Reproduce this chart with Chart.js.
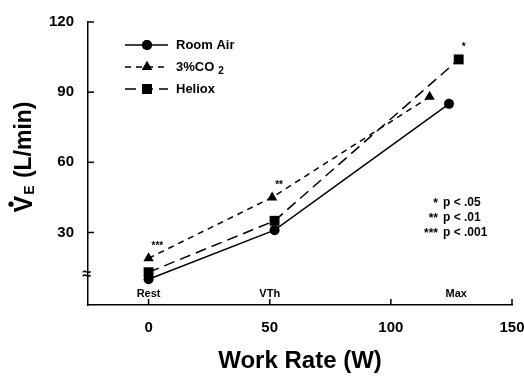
<!DOCTYPE html>
<html>
<head>
<meta charset="utf-8">
<script src="https://cdn.jsdelivr.net/npm/chart.js@4"></script>
<style>
  html, body { margin: 0; padding: 0; background: #fff; }
  #wrap { width: 524px; height: 379px; }
</style>
</head>
<body>
<div id="wrap"><canvas id="chart" width="524" height="379"></canvas></div>
<script>
// data
const roomAirX = [0, 52, 124];
const roomAirY = [10, 31, 85];
const co2X = [0, 51, 116];
const co2Y = [19, 45, 88];
const helioxX = [0, 52, 128];
const helioxY = [13, 35, 104];
const co2Sig = ['***', '**', ''];
const helioxSig = ['', '', '*'];
const xTicks = [0, 50, 100, 150];
const yTicks = [30, 60, 90, 120];
const stageLabels = ['Rest', 'VTh', 'Max'];
const stageX = [0, 50, 127];
const pStars = ['*', '**', '***'];
const pTexts = ['p < .05', 'p < .01', 'p < .001'];

const FONT = '"Liberation Sans", Arial, Helvetica, sans-serif';

function pts(xs, ys) {
    return xs.map((x, i) => ({ x: x, y: ys[i] }));
}

const datasets = [
    { label: 'Room Air', data: pts(roomAirX, roomAirY), pointStyle: 'circle', pointRadius: 5, borderDash: [] },
    { label: '3%CO2', data: pts(co2X, co2Y), pointStyle: 'triangle', pointRadius: 6, borderDash: [6, 5], sig: co2Sig },
    { label: 'Heliox', data: pts(helioxX, helioxY), pointStyle: 'rect', pointRadius: 7, borderDash: [11, 6], sig: helioxSig }
].map(d => Object.assign({
    showLine: true,
    borderColor: '#000',
    backgroundColor: '#000',
    borderWidth: 1.5,
    pointBorderWidth: 0,
    pointHoverRadius: 0
}, d));

// extras: inward ticks, labels, legend, y title
const extras = {
    id: 'extras',
    afterDatasetsDraw(chart) {
        const ctx = chart.ctx;
        const xs = chart.scales.x, ys = chart.scales.y;
        const area = chart.chartArea;
        ctx.save();
        ctx.strokeStyle = '#000';
        ctx.fillStyle = '#000';
        ctx.lineWidth = 1.5;

        // inward ticks
        xTicks.forEach(v => {
            const px = xs.getPixelForValue(v);
            ctx.beginPath(); ctx.moveTo(px, area.bottom); ctx.lineTo(px, area.bottom - 6); ctx.stroke();
        });
        yTicks.forEach(v => {
            const py = ys.getPixelForValue(v);
            ctx.beginPath(); ctx.moveTo(area.left, py); ctx.lineTo(area.left + 6, py); ctx.stroke();
        });

        // axis break
        ctx.font = 'bold 16px ' + FONT;
        ctx.textAlign = 'center';
        ctx.textBaseline = 'middle';
        ctx.fillText('\u2248', area.left - 1, ys.getPixelForValue(12));

        // stage labels
        ctx.font = 'bold 11px ' + FONT;
        ctx.textBaseline = 'bottom';
        stageLabels.forEach((t, i) => {
            ctx.fillText(t, xs.getPixelForValue(stageX[i]), area.bottom - 6);
        });

        // significance marks
        ctx.font = 'bold 10px ' + FONT;
        ctx.textAlign = 'left';
        ctx.textBaseline = 'middle';
        chart.data.datasets.forEach((ds, di) => {
            if (!ds.sig) return;
            const meta = chart.getDatasetMeta(di);
            ds.sig.forEach((s, i) => {
                if (!s) return;
                const p = meta.data[i];
                ctx.fillText(s, p.x + 3, p.y - 12);
            });
        });

        // p value key
        ctx.font = 'bold 12px ' + FONT;
        pStars.forEach((s, i) => {
            const y = 203 + i * 15;
            ctx.textAlign = 'right';
            ctx.fillText(s, 438, y + 1);
            ctx.textAlign = 'left';
            ctx.fillText(pTexts[i], 443, y);
        });

        // legend
        chart.data.datasets.forEach((ds, i) => {
            const y = 45 + i * 22;
            ctx.setLineDash(ds.borderDash);
            ctx.lineWidth = 1.5;
            ctx.beginPath(); ctx.moveTo(125, y); ctx.lineTo(168, y); ctx.stroke();
            ctx.setLineDash([]);
            Chart.helpers.drawPoint(ctx, { pointStyle: ds.pointStyle, radius: ds.pointRadius, borderWidth: 0 }, 147, y);
            ctx.fill();
            ctx.font = 'bold 13px ' + FONT;
            ctx.textAlign = 'left';
            ctx.textBaseline = 'middle';
            if (ds.label === '3%CO2') {
                ctx.fillText('3%CO', 176, y);
                const w = ctx.measureText('3%CO').width;
                ctx.font = 'bold 10px ' + FONT;
                ctx.fillText('2', 176 + w + 4, y + 4);
            } else {
                ctx.fillText(ds.label, 176, y);
            }
        });

        // y axis title: V-dot, subscript E, (L/min)
        ctx.translate(25, 157);
        ctx.rotate(-Math.PI / 2);
        ctx.textAlign = 'left';
        ctx.textBaseline = 'middle';
        ctx.font = 'bold 25px ' + FONT;
        const wV = ctx.measureText('V').width;
        ctx.font = 'bold 14px ' + FONT;
        const wE = ctx.measureText('E').width;
        ctx.font = 'bold 23px ' + FONT;
        const wU = ctx.measureText(' (L/min)').width;
        let x0 = -(wV + wE + 2 + wU) / 2;
        ctx.font = 'bold 25px ' + FONT;
        ctx.fillText('V', x0, 0);
        ctx.beginPath();
        ctx.arc(x0 + wV / 2, -14, 2.6, 0, Math.PI * 2);
        ctx.fill();
        ctx.font = 'bold 14px ' + FONT;
        ctx.fillText('E', x0 + wV + 1, 5);
        ctx.font = 'bold 23px ' + FONT;
        ctx.fillText(' (L/min)', x0 + wV + wE + 2, 0);
        ctx.restore();
    }
};

new Chart(document.getElementById('chart'), {
    type: 'scatter',
    data: { datasets: datasets },
    options: {
        responsive: false,
        animation: false,
        events: [],
        layout: { padding: { top: 22, right: 12, left: 0, bottom: 0 } },
        plugins: {
            legend: { display: false },
            tooltip: { enabled: false }
        },
        scales: {
            x: {
                type: 'linear',
                min: -25,
                max: 150,
                afterBuildTicks: s => { s.ticks = xTicks.map(v => ({ value: v })); },
                afterFit: s => { s.height = 74; s.paddingLeft = 0; s.paddingRight = 0; },
                grid: { display: false, drawTicks: false },
                border: { display: true, color: '#000', width: 1.5 },
                ticks: {
                    color: '#000',
                    padding: 14,
                    maxRotation: 0,
                    font: { family: FONT, size: 15, weight: 'bold' }
                },
                title: {
                    display: true,
                    text: 'Work Rate (W)',
                    color: '#000',
                    padding: { top: 0, bottom: 3 },
                    font: { family: FONT, size: 24, weight: 'bold' }
                }
            },
            y: {
                type: 'linear',
                min: -1,
                max: 120,
                afterBuildTicks: s => { s.ticks = yTicks.map(v => ({ value: v })); },
                afterFit: s => { s.width = 88; s.paddingTop = 0; s.paddingBottom = 0; },
                grid: { display: false, drawTicks: false },
                border: { display: true, color: '#000', width: 1.5 },
                ticks: {
                    color: '#000',
                    padding: 14,
                    font: { family: FONT, size: 15, weight: 'bold' }
                }
            }
        }
    },
    plugins: [extras]
});
</script>
</body>
</html>
